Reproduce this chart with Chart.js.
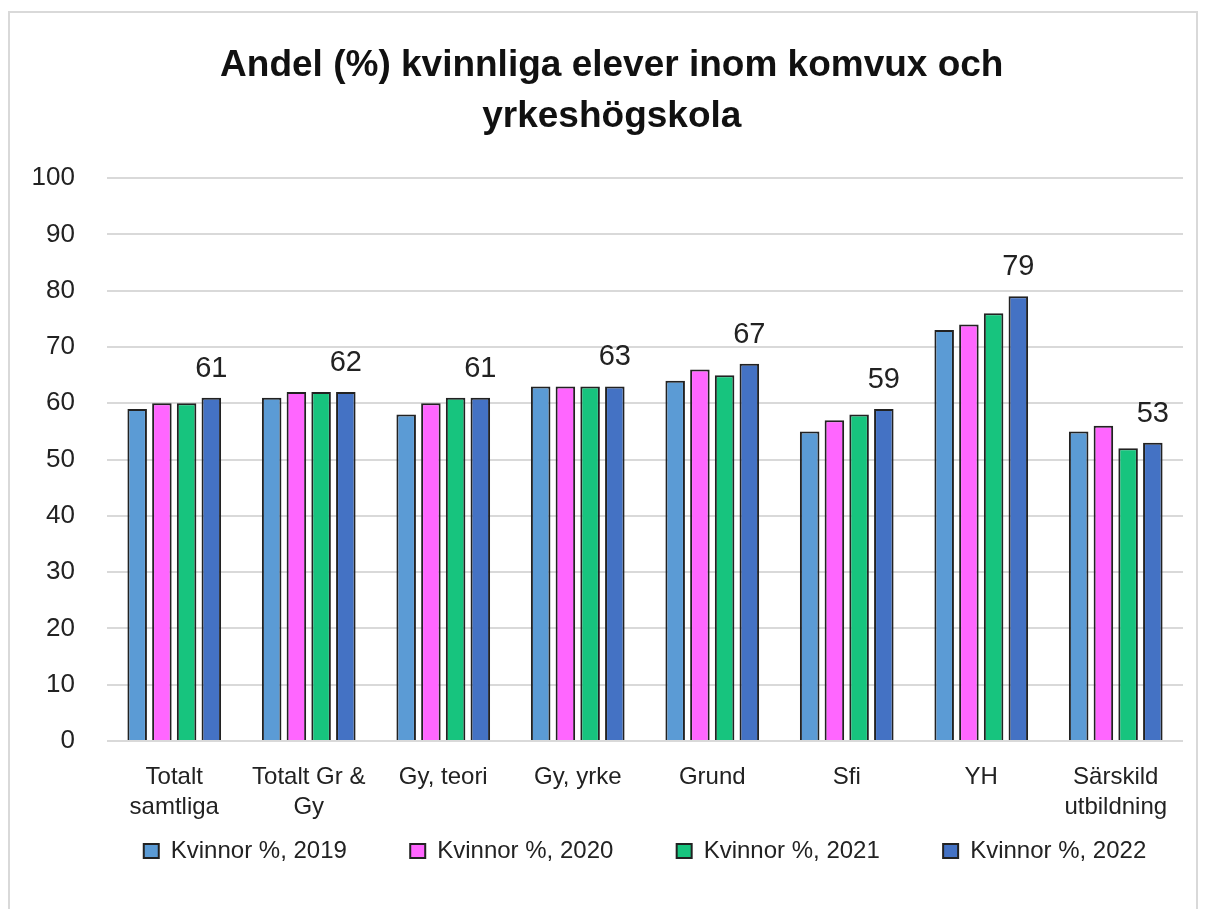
<!DOCTYPE html>
<html>
<head>
<meta charset="utf-8">
<script src="https://cdn.jsdelivr.net/npm/chart.js@4.4.1/dist/chart.umd.min.js"></script>
<style>
  html, body { margin: 0; padding: 0; background: #fff; }
  #frame {
    position: absolute; left: 8px; top: 11px;
    width: 1190px; height: 940px;
    border: 2px solid #d9d9d9; box-sizing: border-box;
  }
  #chart { position: absolute; left: 0; top: 0; }
</style>
</head>
<body>
<div id="frame"></div>
<canvas id="chart" width="1205" height="909"></canvas>
<script>
const categories = [
  ['Totalt', 'samtliga'], ['Totalt Gr &', 'Gy'], 'Gy, teori', 'Gy, yrke',
  'Grund', 'Sfi', 'YH', ['Särskild', 'utbildning']
];
const years = ['Kvinnor %, 2019', 'Kvinnor %, 2020', 'Kvinnor %, 2021', 'Kvinnor %, 2022'];
const women2019 = [59, 61, 58, 63, 64, 55, 73, 55];
const women2020 = [60, 62, 60, 63, 66, 57, 74, 56];
const women2021 = [60, 62, 61, 63, 65, 58, 76, 52];
const women2022 = [61, 62, 61, 63, 67, 59, 79, 53];
const yTicks = [0, 10, 20, 30, 40, 50, 60, 70, 80, 90, 100];

const colors = ['#5b9bd5', '#ff66ff', '#17c47e', '#4472c4'];
const font = "'Liberation Sans', Arial, sans-serif";

// values printed above the 2022 bars only
const lastYearLabels = {
  id: 'lastYearLabels',
  afterDatasetsDraw(chart) {
    const ctx = chart.ctx;
    const meta = chart.getDatasetMeta(3);
    ctx.save();
    ctx.font = '29px ' + font;
    ctx.fillStyle = '#222';
    ctx.textAlign = 'center';
    ctx.textBaseline = 'alphabetic';
    meta.data.forEach((bar, i) => {
      ctx.fillText(String(women2022[i]), bar.x, bar.y - 21);
    });
    ctx.restore();
  }
};

const series = [women2019, women2020, women2021, women2022];
const gap = ' '.repeat(8); // wide spacing between legend entries

new Chart(document.getElementById('chart'), {
  type: 'bar',
  data: {
    labels: categories,
    datasets: series.map((values, i) => ({
      label: years[i],
      data: values,
      backgroundColor: colors[i],
      borderColor: '#222',
      borderWidth: 2,
      categoryPercentage: 0.735,
      barPercentage: 0.79
    }))
  },
  options: {
    responsive: false,
    animation: false,
    layout: { padding: { left: 20, right: 22, top: 40, bottom: 36 } },
    plugins: {
      title: {
        display: true,
        text: ['  Andel (%) kvinnliga elever inom komvux och', '  yrkeshögskola'],
        color: '#111',
        font: { family: font, size: 37, weight: 'bold', lineHeight: 1.38 },
        padding: { top: 0, bottom: 36 }
      },
      legend: {
        position: 'bottom',
        fullSize: false,
        labels: {
          color: '#222',
          font: { family: font, size: 24 },
          boxWidth: 15,
          boxHeight: 14,
          padding: 10,
          generateLabels(chart) {
            const items = Chart.defaults.plugins.legend.labels.generateLabels(chart);
            items.forEach((item, i) => {
              if (i < items.length - 1) item.text += gap;
            });
            return items;
          }
        }
      },
      tooltip: { enabled: false }
    },
    scales: {
      x: {
        afterFit(scale) { scale.height = 88; },
        grid: { display: false, drawTicks: false },
        border: { display: false },
        ticks: {
          color: '#222',
          font: { family: font, size: 24, lineHeight: 1.25 },
          padding: 21,
          maxRotation: 0,
          autoSkip: false
        }
      },
      y: {
        min: 0,
        max: 100,
        afterFit(scale) { scale.width = 87; },
        afterBuildTicks(scale) { scale.ticks = yTicks.map(v => ({ value: v })); },
        grid: { color: '#d9d9d9', lineWidth: 2, drawTicks: false },
        border: { display: false },
        ticks: {
          color: '#222',
          font: { family: font, size: 26 },
          padding: 32
        }
      }
    }
  },
  plugins: [lastYearLabels]
});
</script>
</body>
</html>
